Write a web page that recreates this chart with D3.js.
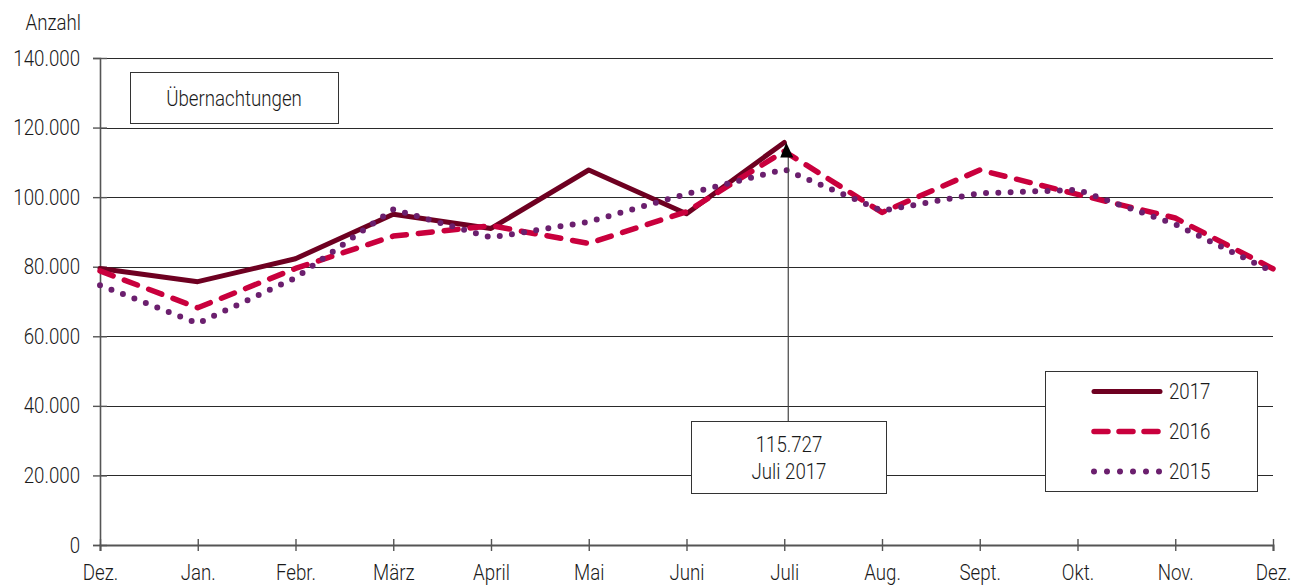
<!DOCTYPE html>
<html>
<head>
<meta charset="utf-8">
<script src="https://cdn.jsdelivr.net/npm/d3@7"></script>
<style>
  html, body { margin: 0; padding: 0; background: #fff; }
  svg { display: block; }
  text { font-family: "Roboto", "Open Sans", sans-serif; fill: #1a1a1a; font-size: 22px; font-weight: 300; }
</style>
</head>
<body>
<svg id="chart" width="1306" height="586"></svg>
<script>
// ---- data ----
const months = ["Dez.", "Jan.", "Febr.", "März", "April", "Mai", "Juni", "Juli", "Aug.", "Sept.", "Okt.", "Nov.", "Dez."];
const v2017 = [79500, 75700, 82300, 95100, 91000, 107800, 95200, 115727];
const v2016 = [78800, 68200, 79500, 88800, 91800, 86700, 95800, 113200, 95600, 107800, 100800, 94000, 79400];
const v2015 = [74700, 63700, 76800, 96500, 88400, 92900, 100900, 108000, 96100, 101100, 102100, 92200, 78500];
const yTicks = [0, 20000, 40000, 60000, 80000, 100000, 120000, 140000];
const seriesNames = ["2017", "2016", "2015"];
const chartTitle = "Übernachtungen";
const yTitle = "Anzahl";
const annotation = { index: 7, value: 115727, lines: ["115.727", "Juli 2017"] };

// ---- setup ----
const SX = 0.85; // horizontal condensing of the text face
const svg = d3.select("#chart");
const x = d3.scaleLinear().domain([0, 12]).range([100, 1273]);
const y = d3.scaleLinear().domain([0, 140000]).range([545, 58]);
const de = d3.formatLocale({ decimal: ",", thousands: ".", grouping: [3], currency: ["", " €"] });
const fmt = de.format(",");

const colors = { "2017": "#6e0021", "2016": "#c9003d", "2015": "#6b1f6e" };
const styles = {
  "2017": { width: 5, dash: null },
  "2016": { width: 5.5, dash: "14 12" },
  "2015": { width: 6, dash: "0 12.3" }
};

function addText(px, py, str, anchor) {
  return svg.append("text")
    .attr("transform", `translate(${px},${py}) scale(${SX},1)`)
    .attr("text-anchor", anchor || "start")
    .text(str);
}

// gridlines
svg.append("g").selectAll("line").data(yTicks.filter(d => d > 0)).join("line")
  .attr("x1", x(0)).attr("x2", x(12))
  .attr("y1", d => Math.round(y(d)) + 0.5).attr("y2", d => Math.round(y(d)) + 0.5)
  .attr("stroke", "#2a2a2a").attr("stroke-width", 1);

// y axis
const yAxis = svg.append("g").attr("transform", `translate(${x(0)},0)`)
  .call(d3.axisLeft(y).tickValues(yTicks).tickFormat(d => d === 0 ? "0" : fmt(d)).tickSize(7).tickPadding(13));
yAxis.attr("font-size", null).attr("font-family", null);
yAxis.select(".domain").attr("stroke", "#555").attr("stroke-width", 1.6);
yAxis.selectAll(".tick line").attr("x2", -7).attr("x1", 7).attr("stroke", "#555").attr("stroke-width", 1.4);
yAxis.selectAll(".tick text").attr("fill", "#1a1a1a").attr("x", -20 / SX).attr("transform", `scale(${SX},1)`);

// x axis
const xAxis = svg.append("g").attr("transform", `translate(0,${y(0)})`)
  .call(d3.axisBottom(x).tickValues(d3.range(13)).tickFormat(i => months[i]).tickSize(6).tickPadding(14));
xAxis.attr("font-size", null).attr("font-family", null);
xAxis.select(".domain").attr("stroke", "#555").attr("stroke-width", 2);
xAxis.selectAll(".tick line").attr("y1", -6).attr("y2", 6).attr("stroke", "#555").attr("stroke-width", 1.4);
xAxis.selectAll(".tick text").attr("fill", "#1a1a1a").attr("y", 19).attr("dy", "0.71em")
  .attr("transform", `scale(${SX},1)`);

// y title
addText(81, 30, yTitle, "end");

// lines
const line = d3.line().x((d, i) => x(i)).y(d => y(d));
const seriesData = { "2017": v2017, "2016": v2016, "2015": v2015 };
seriesNames.forEach(name => {
  const st = styles[name];
  svg.append("path").datum(seriesData[name])
    .attr("d", line).attr("fill", "none")
    .attr("stroke", colors[name]).attr("stroke-width", st.width)
    .attr("stroke-linecap", "round").attr("stroke-linejoin", "round")
    .attr("stroke-dasharray", st.dash);
});

// title box
svg.append("rect").attr("x", 130.5).attr("y", 72.5).attr("width", 208).attr("height", 51)
  .attr("fill", "#fff").attr("stroke", "#333").attr("stroke-width", 1);
addText(234, 106, chartTitle, "middle");

// annotation
const ax = x(annotation.index) + 4;
const ay = y(annotation.value);
svg.append("line").attr("x1", ax).attr("x2", ax).attr("y1", ay + 12).attr("y2", 421)
  .attr("stroke", "#444").attr("stroke-width", 1.2);
svg.append("path").attr("d", `M${ax - 2},${ay} L${ax + 5},${ay + 15} L${ax - 8},${ay + 15} Z`).attr("fill", "#000");
svg.append("rect").attr("x", 691.5).attr("y", 421.5).attr("width", 195).attr("height", 72)
  .attr("fill", "#fff").attr("stroke", "#333").attr("stroke-width", 1);
addText(789, 452, annotation.lines[0], "middle");
addText(789, 479, annotation.lines[1], "middle");

// legend
svg.append("rect").attr("x", 1045.5).attr("y", 371.5).attr("width", 212).attr("height", 120)
  .attr("fill", "#fff").attr("stroke", "#333").attr("stroke-width", 1);
const legendDash = { "2017": null, "2016": "14 11", "2015": "0 13" };
seriesNames.forEach((name, i) => {
  const ly = 391.5 + i * 40;
  const st = styles[name];
  svg.append("line").attr("x1", 1094).attr("x2", 1160).attr("y1", ly).attr("y2", ly)
    .attr("stroke", colors[name]).attr("stroke-width", st.width)
    .attr("stroke-linecap", "round").attr("stroke-dasharray", legendDash[name]);
  addText(1169, ly + 7.5, name, "start");
});
</script>
</body>
</html>
